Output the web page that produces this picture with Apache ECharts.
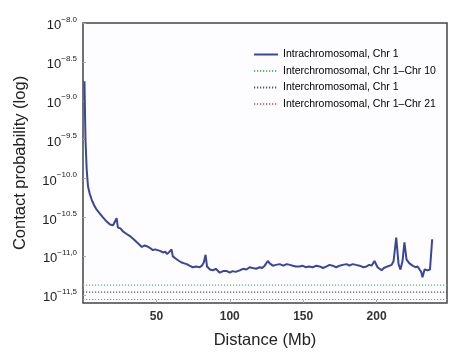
<!DOCTYPE html>
<html>
<head>
<meta charset="utf-8"/>
<title>Contact probability</title>
<script src="https://cdn.jsdelivr.net/npm/echarts@6/dist/echarts.min.js"></script>
<style>
	* { padding: 0; margin: 0; }
	body { background: #fff; }
	#chart { width: 455px; height: 354px; }
</style>
</head>
<body>
<div id="chart"></div>
<script>
// distance (Mb) and log10 contact probability of the intra-chromosomal curve
const distance = [1, 1.4, 1.7, 2.5, 3.4, 4.5, 5.9, 7.5, 9.3, 11.5, 13.6, 16, 18.4, 20.5, 21.8, 22.9, 23.8, 25.5, 27.2, 29.5, 32, 34.5, 36.7, 38.5, 40.1, 42, 43.5, 45.5, 47.6, 49, 50.3, 52.5, 54.4, 56, 57.1, 58.5, 60.3, 61.2, 62.5, 64, 65.5, 67.3, 69, 70.7, 72.5, 74.8, 77, 79.6, 81, 82.3, 83.5, 84.5, 86.5, 88.4, 90.5, 93.2, 95.5, 98, 100, 102, 104, 106.8, 109, 111.4, 113.5, 115.6, 118, 120.4, 122, 123.8, 125, 125.9, 127.2, 129.3, 131.5, 134, 136.5, 138.8, 141, 142.9, 145, 147.6, 149.5, 151.7, 154, 156.5, 159, 161.2, 163.5, 166, 168, 170, 172.5, 174.8, 177, 179.6, 181.5, 183.7, 186, 188.4, 191, 193.2, 195, 196.6, 198.6, 200.7, 202, 203.4, 205, 206.1, 207.5, 208.8, 210.3, 211.6, 213.4, 215, 216.3, 217.7, 219, 220.4, 222.4, 224.5, 226.5, 228, 229.3, 230.4, 231.3, 232.7, 234.7, 236.4, 237.9];
const intraChr1 = [-8.75, -9.2, -9.5, -9.88, -10.1, -10.19, -10.27, -10.34, -10.4, -10.45, -10.5, -10.55, -10.59, -10.6, -10.6, -10.51, -10.63, -10.64, -10.68, -10.71, -10.74, -10.78, -10.82, -10.85, -10.88, -10.86, -10.87, -10.89, -10.92, -10.91, -10.92, -10.93, -10.95, -10.94, -10.97, -10.95, -10.91, -11.0, -11.02, -11.04, -11.06, -11.08, -11.09, -11.1, -11.12, -11.14, -11.13, -11.14, -11.12, -11.08, -10.98, -11.13, -11.17, -11.18, -11.16, -11.21, -11.19, -11.19, -11.21, -11.19, -11.2, -11.18, -11.16, -11.17, -11.14, -11.15, -11.16, -11.14, -11.15, -11.12, -11.1, -11.06, -11.09, -11.12, -11.11, -11.1, -11.12, -11.1, -11.11, -11.12, -11.13, -11.13, -11.12, -11.14, -11.13, -11.14, -11.12, -11.13, -11.15, -11.13, -11.11, -11.12, -11.14, -11.12, -11.11, -11.1, -11.12, -11.1, -11.11, -11.12, -11.14, -11.13, -11.11, -11.12, -11.06, -11.14, -11.16, -11.18, -11.15, -11.17, -11.13, -11.14, -11.11, -11.06, -10.76, -11.1, -11.17, -11.06, -10.82, -11.04, -11.09, -11.12, -11.14, -11.13, -11.17, -11.2, -11.27, -11.17, -11.18, -11.17, -10.78];

// flat inter-chromosomal levels (log10)
const interChr1Chr10 = -11.37;
const interChr1 = -11.46;
const interChr1Chr21 = -11.555;

const xRange = [0, 248];
const xTicks = [50, 100, 150, 200];
const yTicks = [-11.5, -11, -10.5, -10, -9.5, -9, -8.5, -8];
const yTickText = {'-8': '\u22128.0', '-8.5': '\u22128.5', '-9': '\u22129.0', '-9.5': '\u22129.5',
	'-10': '\u221210.0', '-10.5': '\u221210.5', '-11': '\u221211,0', '-11.5': '\u221211,5'};

const SANS = '"Liberation Sans", Arial, sans-serif';

function flat(v) { return [[xRange[0], v], [xRange[1], v]]; }

let chart = echarts.init(document.getElementById('chart'));
chart.setOption({
	animation: false,
	grid: {
		left: 83, right: 8, top: 23, bottom: 50,
		show: true, borderColor: '#444', borderWidth: 1.5, backgroundColor: '#fdfdff'
	},
	legend: {
		orient: 'vertical', left: 248, top: 44,
		itemWidth: 24, itemHeight: 10, itemGap: 5.5,
		itemStyle: { opacity: 0 },
		textStyle: { fontFamily: SANS, fontSize: 10.5, color: '#000' },
		data: ['Intrachromosomal, Chr 1', 'Interchromosomal, Chr 1\u2013Chr 10',
			'Interchromosomal, Chr 1', 'Interchromosomal, Chr 1\u2013Chr 21']
	},
	xAxis: {
		type: 'value', min: xRange[0], max: xRange[1],
		name: 'Distance (Mb)', nameLocation: 'middle', nameGap: 29,
		nameTextStyle: { fontFamily: SANS, fontSize: 16.5, color: '#222' },
		axisLine: { show: false },
		splitLine: { show: false },
		axisTick: { show: true, inside: true, length: 3, customValues: xTicks, lineStyle: { color: '#aaa' } },
		axisLabel: { customValues: xTicks, margin: 8, fontFamily: SANS, fontSize: 12, color: '#333', fontWeight: 'bold' }
	},
	yAxis: {
		type: 'value', min: -11.6, max: -8,
		name: 'Contact probability (log)', nameLocation: 'middle', nameGap: 54,
		nameTextStyle: { fontFamily: SANS, fontSize: 16.5, color: '#222' },
		axisLine: { show: false },
		splitLine: { show: false },
		axisTick: { show: true, inside: true, length: 3, customValues: yTicks, lineStyle: { color: '#aaa' } },
		axisLabel: {
			customValues: yTicks, margin: 6,
			formatter: function (v) { return '{b|10}{s|' + yTickText[String(v)] + '}'; },
			rich: {
				b: { fontFamily: SANS, fontSize: 13, color: '#222', padding: [5, 0, 0, 0] },
				s: { fontFamily: SANS, fontSize: 8, color: '#222', padding: [0, 0, 7, 0] }
			}
		}
	},
	series: [
		{
			name: 'Intrachromosomal, Chr 1', type: 'line', symbol: 'none',
			lineStyle: { color: '#3a4696', width: 2 }, itemStyle: { color: '#3a4696' },
			data: distance.map((d, i) => [d, intraChr1[i]])
		},
		{
			name: 'Interchromosomal, Chr 1\u2013Chr 10', type: 'line', symbol: 'none',
			lineStyle: { color: '#5cb870', width: 1.2, type: [1.2, 1.8] }, itemStyle: { color: '#5cb870' },
			data: flat(interChr1Chr10)
		},
		{
			name: 'Interchromosomal, Chr 1', type: 'line', symbol: 'none',
			lineStyle: { color: '#555', width: 1.2, type: [1.2, 1.8] }, itemStyle: { color: '#555' },
			data: flat(interChr1)
		},
		{
			name: 'Interchromosomal, Chr 1\u2013Chr 21', type: 'line', symbol: 'none',
			lineStyle: { color: '#e26a6a', width: 1.2, type: [1.2, 1.8] }, itemStyle: { color: '#e26a6a' },
			data: flat(interChr1Chr21)
		}
	]
});
</script>
</body>
</html>
